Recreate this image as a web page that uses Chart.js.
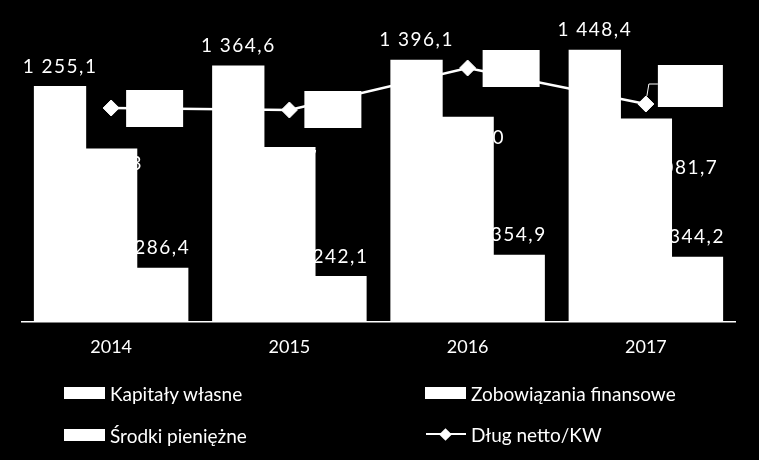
<!DOCTYPE html>
<html lang="pl">
<head>
<meta charset="utf-8">
<title>Kapitały własne, zobowiązania finansowe, środki pieniężne 2014-2017</title>
<script src="https://cdn.jsdelivr.net/npm/chart.js@4.4.1/dist/chart.umd.min.js"></script>
<style>
  html, body { margin: 0; padding: 0; background: #000; }
  #wrap { position: relative; width: 759px; height: 460px; overflow: hidden; background: #000; }
  #chart { position: absolute; left: 0; top: 0; }
  .legend-item {
    position: absolute; height: 20px; display: flex; align-items: center;
    color: #fff; font-family: Lato, "Open Sans", sans-serif; font-size: 19px; white-space: nowrap;
  }
  .swatch { width: 41px; height: 12px; background: #fff; margin-right: 5px; }
  .line-swatch { position: relative; width: 40px; height: 14px; margin-right: 5px; }
  .line-swatch::before { content: ''; position: absolute; left: 0; right: 0; top: 6px; height: 2px; background: #fff; }
  .line-swatch::after { content: ''; position: absolute; left: 15px; top: 2.5px; width: 9px; height: 9px; background: #fff; transform: rotate(45deg); }
</style>
</head>
<body>
<div id="wrap">
  <canvas id="chart" width="759" height="460"></canvas>
  <div id="legend"></div>
</div>
<script>
// chart data
const years = ['2014', '2015', '2016', '2017'];
const kapitalyWlasne = [1255.1, 1364.6, 1396.1, 1448.4];
const zobowiazaniaFinansowe = [922.3, 930.7, 1091.0, 1081.7];
const srodkiPieniezne = [286.4, 242.1, 354.9, 344.2];
const dlugNettoKW = [0.507, 0.506, 0.527, 0.509];
const seriesNames = ['Kapitały własne', 'Zobowiązania finansowe', 'Środki pieniężne', 'Dług netto/KW'];

// polish number format: "1 255,1"
function fmt(v, digits) {
    const parts = v.toFixed(digits).split('.');
    parts[0] = parts[0].replace(/\B(?=(\d{3})+(?!\d))/g, ' ');
    return parts.join(',');
}

// draws the value labels (excel style) on top of the bars and the line
const valueLabels = {
    id: 'valueLabels',
    afterDatasetsDraw(chart, args, opts) {
        const ctx = chart.ctx;
        ctx.save();
        ctx.fillStyle = '#fff';
        ctx.strokeStyle = '#fff';
        ctx.font = opts.font;
        ctx.letterSpacing = opts.letterSpacing;
        ctx.textAlign = 'center';
        ctx.textBaseline = 'alphabetic';

        chart.data.datasets.forEach((ds, i) => {
            const meta = chart.getDatasetMeta(i);
            meta.data.forEach((el, j) => {
                const v = ds.data[j];
                if (ds.type === 'line') {
                    const b = opts.lineBoxes[j];
                    const left = el.x + b.dx, top = el.y + b.dy;
                    ctx.fillRect(left, top, b.w, b.h);
                    if (b.leader) {
                        ctx.lineWidth = 1;
                        ctx.beginPath();
                        ctx.moveTo(left, top + b.h / 2 - 2);
                        ctx.lineTo(el.x + 3, top + b.h / 2 - 2);
                        ctx.lineTo(el.x + 1, el.y - 8);
                        ctx.stroke();
                    }
                    ctx.fillText(fmt(v, 2), left + b.w / 2, top + b.h / 2 + 6);
                } else {
                    const shift = opts.inside[i];
                    if (shift) {
                        ctx.fillText(fmt(v, 1), el.x + shift[j][0], el.y + shift[j][1]);
                    } else {
                        ctx.fillText(fmt(v, 1), el.x, el.y - opts.gap);
                    }
                }
            });
        });
        ctx.restore();
    }
};

function buildChart() {
    const ctx = document.getElementById('chart').getContext('2d');
    const barStyle = {
        backgroundColor: '#fff',
        borderWidth: 0,
        inflateAmount: 0.6,
        categoryPercentage: 0.86,
        barPercentage: 1.0,
        yAxisID: 'y',
        order: 1
    };
    return new Chart(ctx, {
        type: 'bar',
        data: {
            labels: years,
            datasets: [
                { label: seriesNames[0], data: kapitalyWlasne, ...barStyle },
                { label: seriesNames[1], data: zobowiazaniaFinansowe, ...barStyle },
                { label: seriesNames[2], data: srodkiPieniezne, ...barStyle },
                {
                    type: 'line',
                    label: seriesNames[3],
                    data: dlugNettoKW,
                    yAxisID: 'y1',
                    order: 0,
                    borderColor: '#fff',
                    borderWidth: 2.5,
                    tension: 0,
                    pointStyle: 'rectRot',
                    pointRadius: 8,
                    pointBackgroundColor: '#fff',
                    pointBorderColor: '#fff',
                    pointBorderWidth: 1
                }
            ]
        },
        options: {
            responsive: false,
            animation: false,
            layout: { padding: { left: 22, right: 24, top: 22, bottom: 98 } },
            plugins: {
                legend: { display: false },
                tooltip: { enabled: false },
                valueLabels: {
                    font: '19px Lato, "Open Sans", sans-serif',
                    letterSpacing: '1.5px',
                    gap: 14,
                    // zobowiązania labels sit inside the bar top, as in the source
                    inside: { 1: [[4, 21], [1, 17], [0, 27], [35, 55]] },
                    lineBoxes: [
                        { dx: 15, dy: -18, w: 57, h: 37 },
                        { dx: 15, dy: -19, w: 57, h: 37 },
                        { dx: 15, dy: -18, w: 57, h: 37 },
                        { dx: 12, dy: -39, w: 65, h: 42, leader: true }
                    ]
                }
            },
            scales: {
                x: {
                    grid: { display: false, drawTicks: false },
                    border: { display: true, color: '#fff', width: 1.5 },
                    ticks: { color: '#fff', padding: 14, font: { family: 'Lato', size: 18 } },
                    afterFit: (s) => { s.height = 40; }
                },
                y: { display: false, min: 0, max: 1600 },
                y1: { display: false, position: 'right', min: 0.40, max: 0.55 }
            }
        },
        plugins: [valueLabels]
    });
}

// html legend, two columns like the original
function buildLegend() {
    const items = [
        { name: seriesNames[0], left: 64, top: 383, line: false },
        { name: seriesNames[1], left: 425, top: 383, line: false },
        { name: seriesNames[2], left: 64, top: 425, line: false },
        { name: seriesNames[3], left: 426, top: 424, line: true }
    ];
    const box = document.getElementById('legend');
    items.forEach(it => {
        const el = document.createElement('div');
        el.className = 'legend-item';
        el.style.left = it.left + 'px';
        el.style.top = it.top + 'px';
        const sw = document.createElement('span');
        sw.className = it.line ? 'line-swatch' : 'swatch';
        const txt = document.createElement('span');
        txt.textContent = it.name;
        el.appendChild(sw);
        el.appendChild(txt);
        box.appendChild(el);
    });
}

buildChart();
buildLegend();
</script>
</body>
</html>
